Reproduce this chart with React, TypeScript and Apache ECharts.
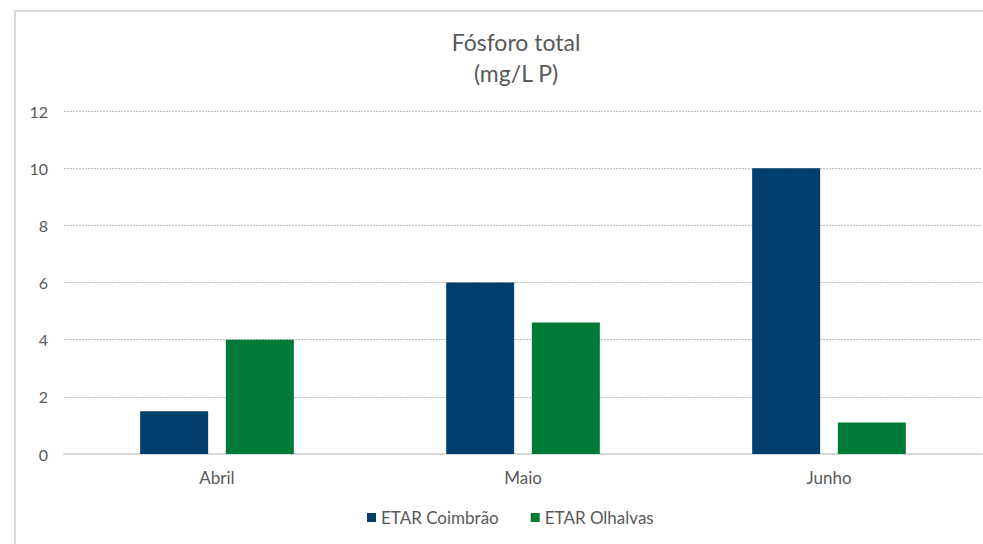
import React, { useEffect, useRef } from "react";
import * as echarts from "echarts";

const categories = ["Abril", "Maio", "Junho"];
const coimbrao = [1.5, 6, 10];
const olhalvas = [4, 4.6, 1.1];
const seriesNames = ["ETAR Coimbrão", "ETAR Olhalvas"];
const titleLines = ["Fósforo total", "(mg/L P)"];

export default function App() {
  const ref = useRef<HTMLDivElement>(null);
  useEffect(() => {
    document.body.style.margin = "0";
    const chart = echarts.init(ref.current!, null, { renderer: "svg" });
    const font = "Lato, 'Open Sans', sans-serif";
    chart.setOption({
      animation: false,
      backgroundColor: "#ffffff",
      textStyle: { fontFamily: font },
      graphic: [
        {
          type: "rect",
          shape: { x: 15, y: 11, width: 1100, height: 700 },
          style: { fill: "none", stroke: "#d9d9d9", lineWidth: 2 },
          silent: true,
        },
      ],
      title: {
        text: titleLines.join("\n"),
        left: 511,
        textAlign: "center",
        top: 21,
        textStyle: {
          fontFamily: font,
          fontSize: 23,
          fontWeight: "normal",
          color: "#595959",
          lineHeight: 31,
        },
      },
      legend: {
        data: seriesNames,
        bottom: 13,
        left: 362,
        itemWidth: 9,
        itemHeight: 9,
        itemGap: 32,
        icon: "rect",
        textStyle: { fontFamily: font, fontSize: 17, color: "#595959", padding: [0, 0, 0, 0] },
      },
      grid: { left: 64, right: 1, top: 111, bottom: 90, containLabel: false },
      xAxis: {
        type: "category",
        data: categories,
        axisLine: { lineStyle: { color: "#d9d9d9", width: 2 } },
        axisTick: { show: false },
        axisLabel: { fontFamily: font, fontSize: 17, color: "#595959", margin: 15 },
      },
      yAxis: {
        type: "value",
        min: 0,
        max: 12,
        interval: 2,
        axisLine: { show: false },
        axisTick: { show: false },
        axisLabel: { fontFamily: font, fontSize: 16, color: "#595959", margin: 16 },
        splitLine: { lineStyle: { color: "#bfbfbf", type: [2, 1], width: 1 } },
      },
      series: [
        {
          name: seriesNames[0],
          type: "bar",
          data: coimbrao,
          barWidth: 68,
          barGap: "26%",
          itemStyle: { color: "#003f6e" },
        },
        {
          name: seriesNames[1],
          type: "bar",
          data: olhalvas,
          barWidth: 68,
          itemStyle: { color: "#007a37" },
        },
      ],
    });
    return () => chart.dispose();
  }, []);
  return <div ref={ref} style={{ width: 983, height: 544 }} />;
}
